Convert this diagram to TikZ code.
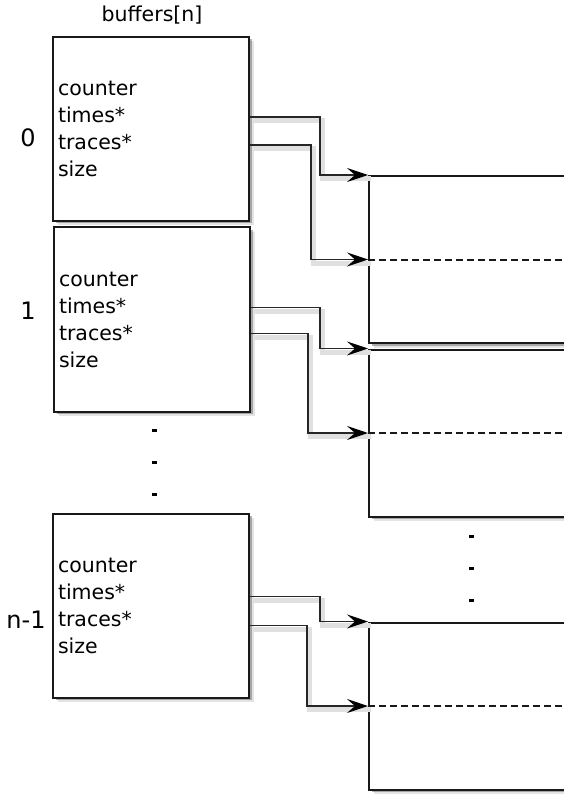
\documentclass[tikz,border=0pt]{standalone}
\usepackage{fontspec}
\setmainfont{DejaVu Sans}
\usetikzlibrary{arrows.meta,positioning,shadows}

\begin{document}
\begin{tikzpicture}[x=1pt,y=-1pt,
  soft/.style={drop shadow={shadow xshift=4.5pt,shadow yshift=-4.5pt,fill=black!30,opacity=.35},drop shadow={shadow xshift=2.5pt,shadow yshift=-2.5pt,fill=black!60,opacity=.5}},
  buf/.style={draw=black!90,line width=2pt,fill=white,minimum width=196pt,minimum height=184pt,text width=186pt,inner xsep=5pt,align=left,font=\fontsize{20.5}{27}\selectfont,soft},
  blk/.style={draw=black!90,line width=2pt,fill=white,minimum width=280pt,minimum height=167pt,soft},
  idx/.style={font=\fontsize{24}{28}\selectfont},
  mid/.style={dash pattern=on 7pt off 4pt,line width=2pt,draw=black!90},
  ptr/.style={-{Stealth[length=21pt,width=14pt,inset=8pt,color=black]},line width=1.4pt,draw=black!85,preaction={draw=black!12,line width=5pt,-,transform canvas={shift={(2.5pt,-3.5pt)}}}}]
\clip (0,0) rectangle (564,794);
\node[font=\fontsize{20.5}{24}\selectfont] (title) at (152,15) {buffers[n]};
% the buffers array
\node[buf] (buf0) at (151,129) {counter\\times*\\traces*\\size};
\node[buf] (buf1) at (152,319.5) {counter\\times*\\traces*\\size};
\node[buf] (buf2) at (151,605.5) {counter\\times*\\traces*\\size};
\node[idx] (lbl0) at (28,138) {0};
\node[idx] (lbl1) at (28,311) {1};
\node[idx] (lbl2) at (26,620) {n-1};
% memory blocks, cut at the right edge
\node[blk] (blk0) at (509,259.5) {};
\node[blk] (blk1) at (509,433) {};
\node[blk] (blk2) at (509,706) {};
\draw[mid] (blk0.west) -- (blk0.east);
\draw[mid] (blk1.west) -- (blk1.east);
\draw[mid] (blk2.west) -- (blk2.east);
% times* and traces* pointers
\draw[ptr] ([yshift=12pt]buf0.east) -- ++(70,0) |- (blk0.north west);
\draw[ptr] ([yshift=-16pt]buf0.east) -- ++(61,0) |- (blk0.west);
\draw[ptr] ([yshift=12pt]buf1.east) -- ++(69,0) |- (blk1.north west);
\draw[ptr] ([yshift=-14pt]buf1.east) -- ++(57,0) |- (blk1.west);
\draw[ptr] ([yshift=9pt]buf2.east) -- ++(70,0) |- (blk2.north west);
\draw[ptr] ([yshift=-20pt]buf2.east) -- ++(57,0) |- (blk2.west);
% vertical ellipses
\foreach \y in {430,462,494} \fill (151.5,\y-1.5) rectangle ++(5,3);
\foreach \y in {536,568,600} \fill (468.5,\y-1.5) rectangle ++(5,3);
\end{tikzpicture}
\end{document}
